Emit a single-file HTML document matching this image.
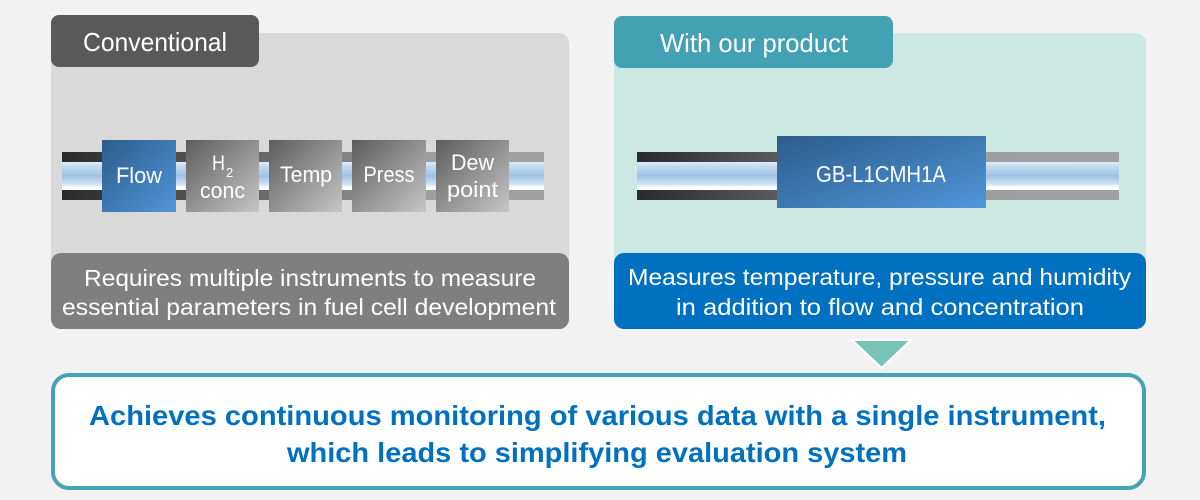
<!DOCTYPE html>
<html>
<head>
<meta charset="utf-8">
<style>
  html,body{margin:0;padding:0;background:#f2f2f2;}
  svg{display:block;}
  text{font-family:"Liberation Sans", Arial, sans-serif;}
</style>
</head>
<body>
<svg width="1200" height="500" viewBox="0 0 1200 500" xmlns="http://www.w3.org/2000/svg">
  <defs>
    <linearGradient id="pipeL" gradientUnits="userSpaceOnUse" x1="62" y1="0" x2="544" y2="0">
      <stop offset="0" stop-color="#2a2a2a"/>
      <stop offset="0.78" stop-color="#a0a0a0"/>
      <stop offset="1" stop-color="#a0a0a0"/>
    </linearGradient>
    <linearGradient id="pipeR" gradientUnits="userSpaceOnUse" x1="637" y1="0" x2="1119" y2="0">
      <stop offset="0" stop-color="#2a2a2a"/>
      <stop offset="0.7" stop-color="#9e9e9e"/>
      <stop offset="1" stop-color="#a0a0a0"/>
    </linearGradient>
    <linearGradient id="blue" x1="0" y1="0" x2="0" y2="1">
      <stop offset="0" stop-color="#e2edf8"/>
      <stop offset="0.15" stop-color="#c4daef"/>
      <stop offset="0.5" stop-color="#9fc3e6"/>
      <stop offset="0.8" stop-color="#cfe2f3"/>
      <stop offset="0.9" stop-color="#ffffff"/>
      <stop offset="1" stop-color="#ffffff"/>
    </linearGradient>
    <linearGradient id="gbox" x1="0" y1="0" x2="1" y2="1">
      <stop offset="0" stop-color="#5c5c5c"/>
      <stop offset="1" stop-color="#c6c6c6"/>
    </linearGradient>
    <linearGradient id="bbox" x1="0" y1="0" x2="1" y2="1">
      <stop offset="0" stop-color="#2d5c8b"/>
      <stop offset="1" stop-color="#4f96da"/>
    </linearGradient>
  </defs>

  <!-- Left panel -->
  <rect x="51" y="33" width="518" height="296" rx="10" fill="#d9d9d9"/>
  <rect x="51" y="15" width="208" height="52" rx="8" fill="#595959"/>
  <text x="83" y="51" font-size="26" fill="#ffffff" textLength="144" lengthAdjust="spacingAndGlyphs">Conventional</text>

  <!-- Left pipe -->
  <rect x="62" y="152" width="482" height="48" fill="url(#pipeL)"/>
  <rect x="62" y="162" width="482" height="28" fill="url(#blue)"/>

  <!-- Instrument boxes -->
  <rect x="102" y="140" width="74" height="72" fill="url(#bbox)"/>
  <text x="139" y="183" font-size="22" fill="#fff" text-anchor="middle" textLength="46" lengthAdjust="spacingAndGlyphs">Flow</text>

  <rect x="186" y="140" width="73" height="72" fill="url(#gbox)"/>
  <text x="212" y="170" font-size="21" fill="#fff" textLength="13" lengthAdjust="spacingAndGlyphs">H</text>
  <text x="226" y="177" font-size="13" fill="#fff">2</text>
  <text x="222.5" y="198" font-size="22" fill="#fff" text-anchor="middle" textLength="45" lengthAdjust="spacingAndGlyphs">conc</text>

  <rect x="269" y="140" width="73" height="72" fill="url(#gbox)"/>
  <text x="306" y="182" font-size="22" fill="#fff" text-anchor="middle" textLength="52" lengthAdjust="spacingAndGlyphs">Temp</text>

  <rect x="352" y="140" width="74" height="72" fill="url(#gbox)"/>
  <text x="389" y="182" font-size="22" fill="#fff" text-anchor="middle" textLength="51" lengthAdjust="spacingAndGlyphs">Press</text>

  <rect x="436" y="140" width="73" height="72" fill="url(#gbox)"/>
  <text x="472.5" y="170" font-size="22" fill="#fff" text-anchor="middle" textLength="43" lengthAdjust="spacingAndGlyphs">Dew</text>
  <text x="472.5" y="197" font-size="22" fill="#fff" text-anchor="middle" textLength="51" lengthAdjust="spacingAndGlyphs">point</text>

  <!-- Left description -->
  <rect x="51" y="253" width="518" height="76" rx="10" fill="#7f7f7f"/>
  <text x="84" y="286" font-size="23" fill="#fff" textLength="452" lengthAdjust="spacingAndGlyphs">Requires multiple instruments to measure</text>
  <text x="62" y="315" font-size="23" fill="#fff" textLength="494" lengthAdjust="spacingAndGlyphs">essential parameters in fuel cell development</text>

  <!-- Right panel -->
  <rect x="614" y="33" width="532" height="296" rx="10" fill="#cce8e3"/>
  <rect x="614" y="16" width="279" height="52" rx="8" fill="#43a1b4"/>
  <text x="660" y="52" font-size="26" fill="#ffffff" textLength="188" lengthAdjust="spacingAndGlyphs">With our product</text>

  <!-- Right pipe -->
  <rect x="637" y="152" width="482" height="48" fill="url(#pipeR)"/>
  <rect x="637" y="162" width="482" height="28" fill="url(#blue)"/>
  <rect x="777" y="136" width="209" height="72" fill="url(#bbox)"/>
  <text x="816" y="182" font-size="23" fill="#fff" textLength="130" lengthAdjust="spacingAndGlyphs">GB-L1CMH1A</text>

  <!-- Right description -->
  <rect x="614" y="253" width="532" height="76" rx="10" fill="#0070c0"/>
  <text x="628" y="285" font-size="23" fill="#fff" textLength="503" lengthAdjust="spacingAndGlyphs">Measures temperature, pressure and humidity</text>
  <text x="676" y="315" font-size="23" fill="#fff" textLength="408" lengthAdjust="spacingAndGlyphs">in addition to flow and concentration</text>

  <!-- Arrow triangle -->
  <polygon points="852,340 911,340 881.5,368" fill="#77c3b7" stroke="#ffffff" stroke-width="2" stroke-linejoin="miter"/>

  <!-- Bottom result box -->
  <rect x="53" y="375" width="1091" height="113" rx="16" fill="#ffffff" stroke="#46a3b5" stroke-width="4"/>
  <text x="89" y="425" font-size="28" font-weight="bold" fill="#0070c0" textLength="1017" lengthAdjust="spacingAndGlyphs">Achieves continuous monitoring of various data with a single instrument,</text>
  <text x="287" y="462" font-size="28" font-weight="bold" fill="#0070c0" textLength="620" lengthAdjust="spacingAndGlyphs">which leads to simplifying evaluation system</text>
</svg>
</body>
</html>
